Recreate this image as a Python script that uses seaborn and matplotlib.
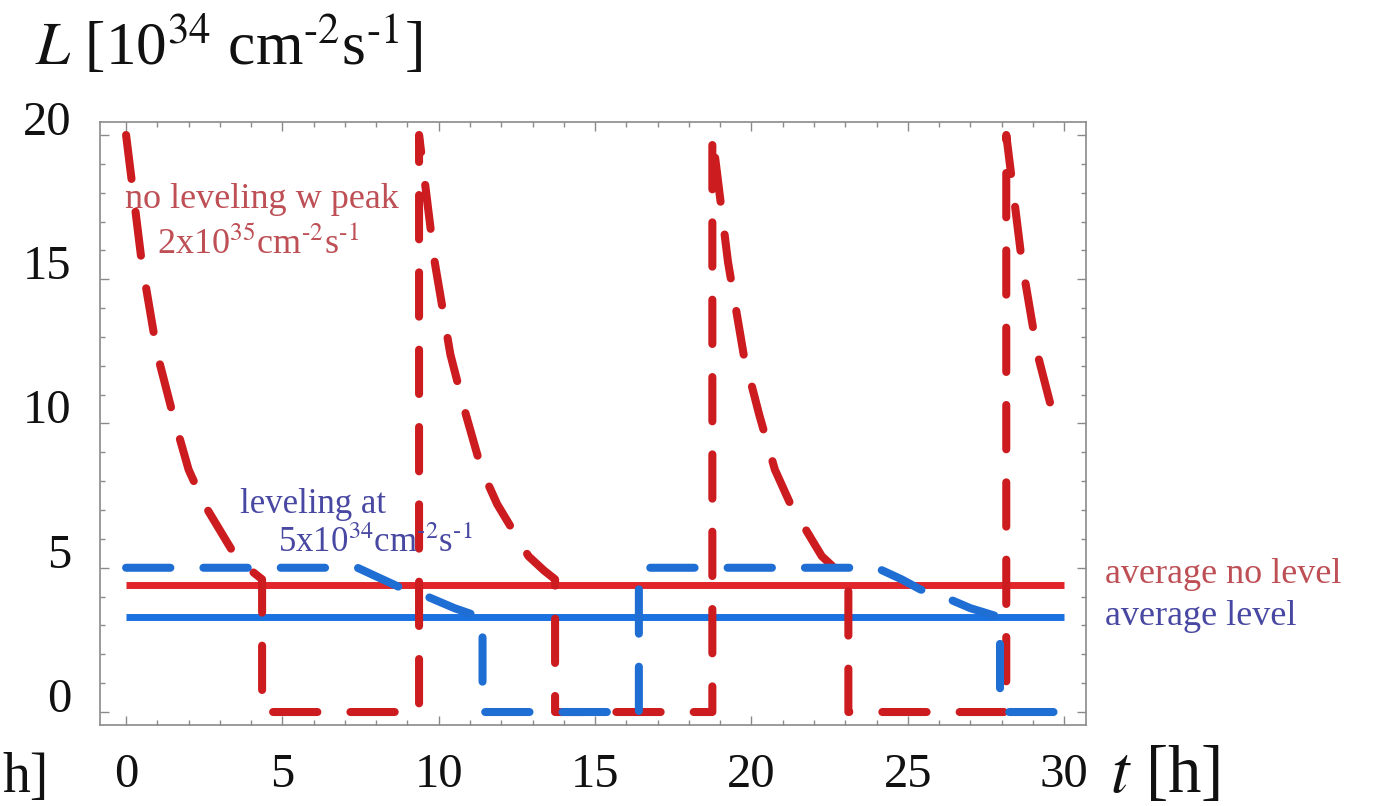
import matplotlib
matplotlib.use("Agg")
import matplotlib.pyplot as plt
import matplotlib.transforms as mtransforms
from matplotlib.ticker import MultipleLocator
import seaborn as sns

# --- data (t in h, L in 1e34 cm^-2 s^-1) ---
red_t = [0.0, 0.5, 1.0, 1.5, 2.0, 2.5, 3.0, 3.5, 4.0, 4.35, 4.35,
         9.37, 9.37, 9.87, 10.37, 10.87, 11.37, 11.87, 12.37, 12.87, 13.37, 13.72, 13.72,
         18.75, 18.75, 19.25, 19.75, 20.25, 20.75, 21.25, 21.75, 22.25, 22.75, 23.1, 23.1,
         28.15, 28.15, 28.65, 29.15, 29.65, 30.0]
red_L = [20.0, 15.6, 12.4, 10.3, 8.4, 7.2, 6.3, 5.4, 4.9, 4.6, 0.0,
         0.0, 20.0, 15.6, 12.4, 10.3, 8.4, 7.2, 6.3, 5.4, 4.9, 4.6, 0.0,
         0.0, 20.0, 15.6, 12.4, 10.3, 8.4, 7.2, 6.3, 5.4, 4.9, 4.6, 0.0,
         0.0, 20.0, 15.6, 12.4, 10.3, 9.8]

blue_t = [0.0, 7.4, 8.2, 8.9, 9.7, 10.5, 11.3, 11.4, 11.4,
          16.4, 16.4, 24.0, 24.8, 25.4, 26.2, 27.0, 27.9, 27.95, 27.95, 30.0]
blue_L = [5.0, 5.0, 4.6, 4.25, 3.97, 3.6, 3.3, 3.3, 0.0,
          0.0, 5.0, 5.0, 4.6, 4.25, 3.97, 3.6, 3.3, 3.3, 0.0, 0.0]

avg_t = [0.0, 30.0]
avg_no_level = 4.4
avg_level = 3.29

x_ticks = [0, 5, 10, 15, 20, 25, 30]
y_ticks = [0, 5, 10, 15, 20]

red_dash = "#cc1c1f"
red_solid = "#e0262b"
blue_dash = "#1f6ed4"
blue_solid = "#1a72e0"
red_txt = "#bd4f55"
blue_txt = "#4848a3"

sns.set_style("ticks")
plt.rcParams["font.family"] = ["Liberation Serif", "DejaVu Serif"]
plt.rcParams["mathtext.fontset"] = "stix"

fig = plt.figure(figsize=(13.84, 8.06), dpi=100)
ax = fig.add_axes([99.5 / 1384, 1 - 725 / 806, (1086 - 99.5) / 1384, 603.3 / 806])

# average lines
sns.lineplot(x=avg_t, y=[avg_no_level] * 2, ax=ax, color=red_solid, lw=5,
             solid_capstyle="butt")
sns.lineplot(x=avg_t, y=[avg_level] * 2, ax=ax, color=blue_solid, lw=5,
             solid_capstyle="butt")

# no leveling (dashed red) and leveling (dashed blue)
sns.lineplot(x=red_t, y=red_L, sort=False, estimator=None, ax=ax, color=red_dash,
             lw=5.8, dash_capstyle="round")
ax.lines[-1].set_dashes([5.5, 4.1])
sns.lineplot(x=blue_t, y=blue_L, sort=False, estimator=None, ax=ax, color=blue_dash,
             lw=5.8, dash_capstyle="round")
ax.lines[-1].set_dashes([5.5, 4.1])

ax.set_xlim(-0.85, 30.7)
ax.set_ylim(-0.45, 20.46)
ax.set_xlabel("")
ax.set_ylabel("")

ax.set_xticks(x_ticks)
ax.set_xticklabels([str(v) for v in x_ticks])
ax.set_yticks(y_ticks)
ax.set_yticklabels([str(v) for v in y_ticks])
ax.xaxis.set_minor_locator(MultipleLocator(1))
ax.yaxis.set_minor_locator(MultipleLocator(1))
ax.tick_params(which="both", direction="in", top=True, right=True,
               color="#8a8a8a", width=1.0, labelsize=35, labelcolor="#111111")
ax.tick_params(which="major", length=6.5)
ax.tick_params(which="minor", length=3.6)
ax.tick_params(axis="x", pad=20)
ax.tick_params(axis="y", pad=20)
for sp in ax.spines.values():
    sp.set_color("#8a8a8a")
    sp.set_linewidth(1.2)

# y tick labels sit a little above their ticks
shift = mtransforms.ScaledTranslation(0, 0.17, fig.dpi_scale_trans)
for lab in ax.get_yticklabels():
    lab.set_transform(lab.get_transform() + shift)

# annotations
ax.text(-0.03, 17.47, "no leveling w peak", color=red_txt, fontsize=26, va="baseline")
ax.text(0.99, 15.9, "2x10$^{35}$cm$^{\u20102}$s$^{\u20101}$", color=red_txt,
        fontsize=26, va="baseline")
ax.text(3.65, 6.9, "leveling at", color=blue_txt, fontsize=25, va="baseline")
ax.text(4.86, 5.55, "5x10$^{34}$cm$^{\u20102}$s$^{\u20101}$", color=blue_txt,
        fontsize=25, va="baseline")

fig.text(1105 / 1384, 1 - 583 / 806, "average no level", color=red_txt, fontsize=26,
         va="baseline")
fig.text(1105 / 1384, 1 - 625 / 806, "average level", color=blue_txt, fontsize=26,
         va="baseline")

# axis titles
fig.text(35 / 1384, 1 - 65 / 806, "$L$ [10$^{34}$ cm$^{\u20102}$s$^{\u20101}$]",
         fontsize=44, va="baseline", color="#111111")
fig.text(1110 / 1384, 1 - 792 / 806, "$t$ [h]", fontsize=48, va="baseline",
         color="#111111")
# leftover of a neighbouring label at the bottom-left edge
fig.text(2 / 1384, 1 - 792 / 806, "h]", fontsize=40, va="baseline", ha="left",
         color="#111111")

fig.savefig("out.png", dpi=100)
